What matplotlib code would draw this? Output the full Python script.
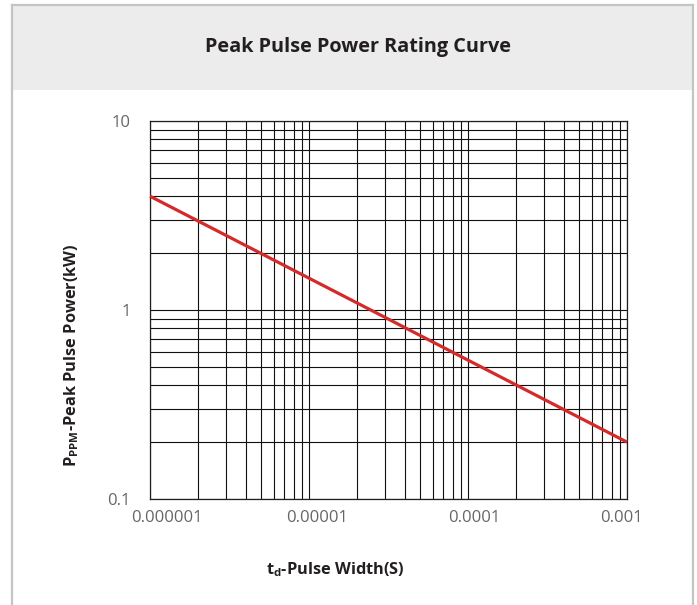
import matplotlib
matplotlib.use('Agg')
import matplotlib.pyplot as plt
import matplotlib.transforms as mtransforms
from matplotlib.patches import Rectangle
from matplotlib.lines import Line2D
from matplotlib.ticker import NullFormatter

plt.rcParams['font.family'] = ['Open Sans', 'DejaVu Sans']
plt.rcParams['mathtext.fontset'] = 'custom'
plt.rcParams['mathtext.rm'] = 'Open Sans'
plt.rcParams['mathtext.bf'] = 'Open Sans:bold'

# data
pulse_width = [1e-6, 1e-3]
peak_power = [4.0, 0.2]
xticks = [1e-6, 1e-5, 1e-4, 1e-3]
xtick_labels = ['0.000001', '0.00001', '0.0001', '0.001']
yticks = [0.1, 1, 10]
ytick_labels = ['0.1', '1', '10']

W, H = 697, 605
fig = plt.figure(figsize=(W / 100, H / 100), dpi=100)
fig.patch.set_facecolor('white')

# card frame + grey header band
def fx(px):
    return px / W

def fy(py):
    return 1 - py / H

fig.add_artist(Rectangle((fx(12), fy(90)), fx(693) - fx(12), fy(5) - fy(90),
                         transform=fig.transFigure, facecolor='#ececec',
                         edgecolor='none', zorder=0))
border = '#c4c4c4'
fig.add_artist(Line2D([fx(12), fx(12)], [fy(5), 0], transform=fig.transFigure,
                      color=border, lw=1.6))
fig.add_artist(Line2D([fx(693), fx(693)], [fy(5), 0], transform=fig.transFigure,
                      color=border, lw=1.6))
fig.add_artist(Line2D([fx(12), fx(693)], [fy(5), fy(5)], transform=fig.transFigure,
                      color=border, lw=1.6))

fig.text(fx(358), fy(47), 'Peak Pulse Power Rating Curve', ha='center', va='center',
         fontsize=14.3, fontweight='bold', color='#231f20')

# plot area
ax = fig.add_axes([fx(150), fy(499), fx(627) - fx(150), fy(121) - fy(499)])
ax.set_xscale('log')
ax.set_yscale('log')
ax.set_xlim(1e-6, 1e-3)
ax.set_ylim(0.1, 10)

ax.plot(pulse_width, peak_power, color='#d42a2a', lw=2.3, solid_capstyle='butt',
        zorder=3, clip_on=False)

ax.grid(True, which='both', color='#111111', lw=0.8)
ax.set_axisbelow(True)
ax.set_xticks(xticks, xtick_labels)
ax.set_yticks(yticks, ytick_labels)
ax.xaxis.set_minor_formatter(NullFormatter())
ax.yaxis.set_minor_formatter(NullFormatter())
ax.tick_params(which='both', length=0)
ax.tick_params(axis='x', pad=8, labelsize=12, labelcolor='#666666')
ax.tick_params(axis='y', pad=14, labelsize=12, labelcolor='#666666')
for sp in ax.spines.values():
    sp.set_color('#231f20')
    sp.set_linewidth(0.9)

# the x labels in the reference sit a little off their grid lines
fig.canvas.draw()
x_shift = [17, 8, 6, -6]
for lab, dx in zip(ax.get_xticklabels(), x_shift):
    lab.set_transform(lab.get_transform() +
                      mtransforms.ScaledTranslation(dx / 100, 0, fig.dpi_scale_trans))

fig.text(fx(335), fy(570), r'$\mathbf{t_d}$-Pulse Width(S)', ha='center', va='center',
         fontsize=11.8, fontweight='bold', color='#231f20')
fig.text(fx(72), fy(355), r'$\mathbf{P_{PPM}}$-Peak Pulse Power(kW)', ha='center',
         va='center', rotation=90, fontsize=11.8, fontweight='bold', color='#231f20')

fig.savefig('out.png', dpi=100, facecolor='white')
